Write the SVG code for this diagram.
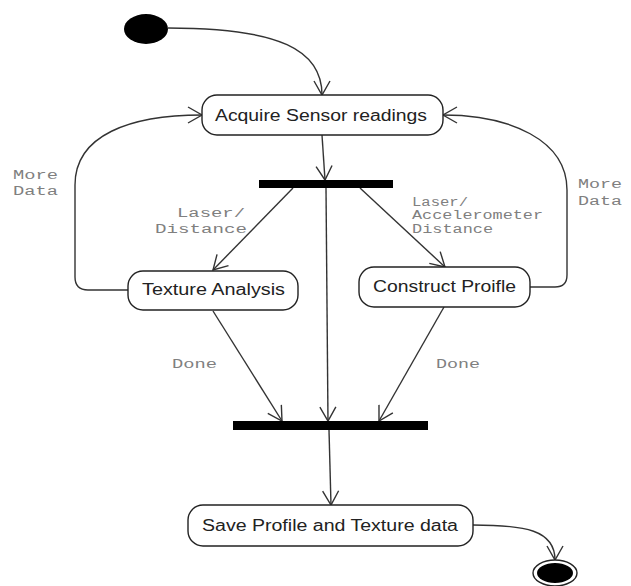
<svg xmlns="http://www.w3.org/2000/svg" width="631" height="586" viewBox="0 0 631 586">
<style>
.box{fill:#fff;stroke:#222;stroke-width:1.4}
.nt{font-family:"Liberation Sans",Arial,sans-serif;font-size:16px;fill:#222}
.lb{font-family:"Liberation Mono","Courier New",monospace;font-size:12px;fill:#808080}
.c{fill:none;stroke:#333;stroke-width:1.4}
.bar{fill:#000}
</style>
<defs>
<marker id="a" markerUnits="userSpaceOnUse" markerWidth="32" markerHeight="32" refX="16" refY="16" orient="auto" viewBox="0 0 32 32">
<path d="M2,8 L16,16 L2,24" fill="none" stroke="#333" stroke-width="1.4"/>
</marker>
</defs>
<rect width="631" height="586" fill="#fff"/>
<g id="connectors">
<path class="c" d="M168,28 C280,28 322,50 322,95" marker-end="url(#a)"/>
<path class="c" d="M322,135 L325,180" marker-end="url(#a)"/>
<path class="c" d="M326,188 L328,421" marker-end="url(#a)"/>
<path class="c" d="M293,188 L213,270" marker-end="url(#a)"/>
<path class="c" d="M360,188 L445,267" marker-end="url(#a)"/>
<path class="c" d="M128,290 L88,290 Q75,290 75,277 L75,185 C75,135 130,115 202,115" marker-end="url(#a)"/>
<path class="c" d="M530,287 L555,287 Q567,287 567,275 L567,190 C567,140 510,115 443,115" marker-end="url(#a)"/>
<path class="c" d="M213,311 L282,421" marker-end="url(#a)"/>
<path class="c" d="M444,307 L379,421" marker-end="url(#a)"/>
<path class="c" d="M329,430 L331,505" marker-end="url(#a)"/>
<path class="c" d="M473,525 C525,525 555,530 555,560" marker-end="url(#a)"/>
<text class="lb" x="177" y="217" textLength="68" lengthAdjust="spacingAndGlyphs">Laser/</text>
<text class="lb" x="155" y="233" textLength="92" lengthAdjust="spacingAndGlyphs">Distance</text>
<text class="lb" x="412" y="206" textLength="56" lengthAdjust="spacingAndGlyphs">Laser/</text>
<text class="lb" x="412" y="219" textLength="131" lengthAdjust="spacingAndGlyphs">Accelerometer</text>
<text class="lb" x="412" y="233" textLength="81" lengthAdjust="spacingAndGlyphs">Distance</text>
<text class="lb" x="13" y="179" textLength="45" lengthAdjust="spacingAndGlyphs">More</text>
<text class="lb" x="13" y="195" textLength="45" lengthAdjust="spacingAndGlyphs">Data</text>
<text class="lb" x="578" y="188" textLength="44" lengthAdjust="spacingAndGlyphs">More</text>
<text class="lb" x="578" y="205" textLength="44" lengthAdjust="spacingAndGlyphs">Data</text>
<text class="lb" x="172" y="368" textLength="45" lengthAdjust="spacingAndGlyphs">Done</text>
<text class="lb" x="436" y="368" textLength="44" lengthAdjust="spacingAndGlyphs">Done</text>
</g>
<g id="start"><ellipse cx="146" cy="29" rx="22" ry="15" fill="#000"/></g>
<g id="acquire"><rect class="box" x="202" y="95" width="241" height="40" rx="15"/><text class="nt" x="215" y="121" textLength="212" lengthAdjust="spacingAndGlyphs">Acquire Sensor readings</text></g>
<g id="fork"><rect class="bar" x="259" y="180" width="134" height="8"/></g>
<g id="texture"><rect class="box" x="128" y="271" width="170" height="39" rx="15"/><text class="nt" x="142" y="295" textLength="143" lengthAdjust="spacingAndGlyphs">Texture Analysis</text></g>
<g id="construct"><rect class="box" x="359" y="267" width="171" height="40" rx="15"/><text class="nt" x="373" y="292" textLength="143" lengthAdjust="spacingAndGlyphs">Construct Proifle</text></g>
<g id="join"><rect class="bar" x="233" y="421" width="195" height="9"/></g>
<g id="save"><rect class="box" x="188" y="505" width="285" height="41" rx="15"/><text class="nt" x="202" y="531" textLength="256" lengthAdjust="spacingAndGlyphs">Save Profile and Texture data</text></g>
<g id="end"><ellipse cx="555" cy="573" rx="22" ry="13" fill="#fff" stroke="#222" stroke-width="1.4"/><ellipse cx="555" cy="573" rx="18" ry="10" fill="#000"/></g>
</svg>
